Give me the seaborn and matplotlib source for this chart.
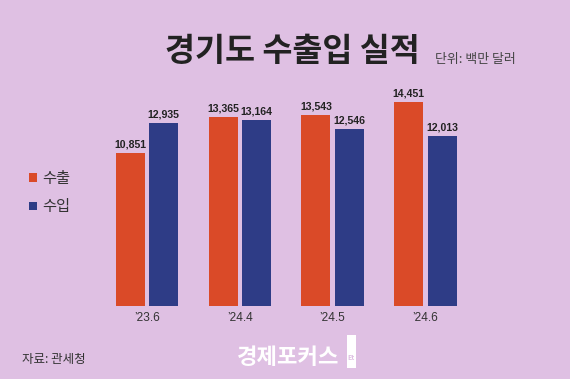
import matplotlib
matplotlib.use("Agg")
import matplotlib.pyplot as plt
import seaborn as sns
import pandas as pd
from matplotlib.patches import Rectangle

# 데이터 (단위: 백만 달러)
periods = ["’23.6", "’24.4", "’24.5", "’24.6"]
exports = [10851, 13365, 13543, 14451]
imports = [12935, 13164, 12546, 12013]
series_names = ["수출", "수입"]

BG = "#dfc0e3"
RED = "#da4a28"
BLUE = "#2e3c86"
KR = ["Noto Sans CJK KR", "DejaVu Sans"]

df = pd.DataFrame({
    "period": periods * 2,
    "series": [series_names[0]] * len(periods) + [series_names[1]] * len(periods),
    "value": exports + imports,
})

sns.set_theme(style="white")
plt.rcParams["font.family"] = KR

fig = plt.figure(figsize=(5.7, 3.79), dpi=100, facecolor=BG)
ax = fig.add_axes([0.1765, 0.1926, 0.6512, 0.596])
ax.set_facecolor(BG)

sns.barplot(data=df, x="period", y="value", hue="series", order=periods,
            hue_order=series_names, palette=[RED, BLUE], width=0.72, gap=0.13,
            saturation=1, linewidth=0, ax=ax, legend=True)

ax.set_xlim(-0.5, 3.5)
ax.set_ylim(0, 16000)

# 막대 위 값 표시
for cont in ax.containers:
    ax.bar_label(cont, labels=[f"{v:,.0f}" for v in cont.datavalues], padding=2.5,
                 fontsize=7.6, fontweight="bold", color="#222222",
                 family=["Liberation Sans Narrow", "Liberation Sans"])

ax.set_xlabel("")
ax.set_ylabel("")
ax.set_yticks([])
ax.tick_params(axis="x", length=0, pad=4, labelsize=8.6, labelcolor="#333333")
for lab in ax.get_xticklabels():
    lab.set_family(["Liberation Sans", "DejaVu Sans"])
sns.despine(ax=ax, left=True, bottom=True)

leg = ax.legend(loc="upper left", bbox_to_anchor=(29 / 570, 1 - 170 / 379),
                bbox_transform=fig.transFigure, frameon=False, fontsize=11,
                handlelength=0.52, handleheight=0.52, handletextpad=0.33,
                labelspacing=0.75, borderaxespad=0, borderpad=0)
for t in leg.get_texts():
    t.set_color("#333333")

fig.text(292 / 570, 1 - 52 / 379, "경기도 수출입 실적", ha="center", va="center",
         fontsize=23.5, fontweight="bold", color="#222222")
fig.text(435 / 570, 1 - 60 / 379, "단위: 백만 달러", ha="left", va="center",
         fontsize=9.3, color="#444444")
fig.text(22 / 570, 1 - 359 / 379, "자료: 관세청", ha="left", va="center",
         fontsize=9, color="#333333")

# 로고
fig.text(288 / 570, 1 - 357 / 379, "경제포커스", ha="center", va="center",
         fontsize=16, fontweight="bold", color="white")
fig.patches.append(Rectangle((347 / 570, 1 - 368 / 379), 9 / 570, 33 / 379,
                             transform=fig.transFigure, facecolor="white",
                             edgecolor="none"))
fig.text(351.5 / 570, 1 - 357 / 379, "Et", ha="center", va="center",
         fontsize=5, color=BG, fontweight="bold")

fig.savefig("out.png", dpi=100, facecolor=BG)
